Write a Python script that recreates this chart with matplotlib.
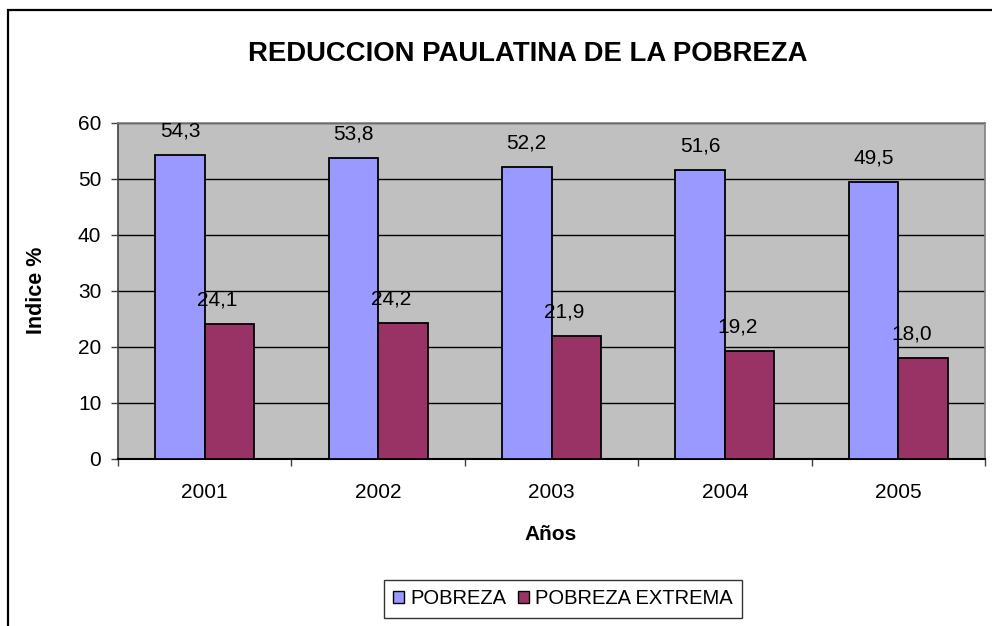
import matplotlib
matplotlib.use("Agg")
import matplotlib.pyplot as plt
from matplotlib.patches import Rectangle, Patch
import numpy as np

years = ["2001", "2002", "2003", "2004", "2005"]
pobreza = [54.3, 53.8, 52.2, 51.6, 49.5]
pobreza_extrema = [24.1, 24.2, 21.9, 19.2, 18.0]
series_names = ["POBREZA", "POBREZA EXTREMA"]
yticks = [0, 10, 20, 30, 40, 50, 60]

plt.rcParams['font.family'] = ['Liberation Sans', 'DejaVu Sans']

W, H = 992, 626
fig = plt.figure(figsize=(W / 100, H / 100), dpi=100)
fig.patch.set_facecolor('white')

# outer chart border (cut off at right/bottom as in reference)
fig.patches.append(Rectangle((8 / W, -0.05), 1.2, 1 - 10 / H + 0.05,
                             transform=fig.transFigure, fill=False,
                             edgecolor='black', linewidth=1.6))

ax = fig.add_axes([118 / W, 1 - 459 / H, (985 - 118) / W, (459 - 123) / H])
ax.set_facecolor('#C0C0C0')

x = np.arange(len(years))
w = 1 / 3.5
c1, c2 = '#9999FF', '#993366'
ax.bar(x - w / 2, pobreza, w, color=c1, edgecolor='black', linewidth=1.3, zorder=3)
ax.bar(x + w / 2, pobreza_extrema, w, color=c2, edgecolor='black', linewidth=1.3, zorder=3)

fs = 15
for xi, v in zip(x, pobreza):
    ax.annotate(f"{v:.1f}".replace('.', ','), (xi - w / 2, v), xytext=(0, 10.5),
                textcoords='offset points', ha='center', va='bottom', fontsize=fs, zorder=5)
for xi, v in zip(x, pobreza_extrema):
    ax.annotate(f"{v:.1f}".replace('.', ','), (xi + w / 2, v), xytext=(-8.5, 10.5),
                textcoords='offset points', ha='center', va='bottom', fontsize=fs, zorder=5)

ax.set_xlim(-0.5, len(years) - 0.5)
ax.set_ylim(0, 60)
ax.set_yticks(yticks)
ax.yaxis.grid(True, color='black', linewidth=1.0, zorder=1)
ax.set_axisbelow(True)

ax.set_xticks(x)
ax.set_xticklabels(years, fontsize=fs)
ax.set_xticks(np.arange(len(years) + 1) - 0.5, minor=True)
ax.tick_params(axis='x', which='major', length=0, pad=17)
ax.tick_params(axis='x', which='minor', length=5, width=1, color='#404040', direction='out')
ax.tick_params(axis='y', which='major', length=5, width=1, color='#404040', pad=7, labelsize=fs)

for s in ['top', 'right']:
    ax.spines[s].set_color('#808080')
    ax.spines[s].set_linewidth(1.2)
ax.spines['left'].set_color('#404040')
ax.spines['bottom'].set_color('black')
ax.spines['left'].set_linewidth(1.2)
ax.spines['bottom'].set_linewidth(1.5)

fig.text(528 / W, 1 - 54 / H, "REDUCCION PAULATINA DE LA POBREZA", ha='center', va='center',
         fontsize=19.8, fontweight='bold')
fig.text(36 / W, 1 - 290 / H, "Indice %", ha='center', va='center', rotation=90,
         fontsize=15.5, fontweight='bold')
fig.text(551 / W, 1 - 534 / H, "Años", ha='center', va='center', fontsize=15, fontweight='bold')

handles = [Patch(facecolor=c1, edgecolor='black', linewidth=1.0),
           Patch(facecolor=c2, edgecolor='black', linewidth=1.0)]
leg = fig.legend(handles, series_names, loc='center', bbox_to_anchor=(563 / W, 1 - 599 / H),
                 ncol=2, fontsize=14.5, frameon=True, fancybox=False, edgecolor='black',
                 handlelength=0.55, handleheight=0.55, handletextpad=0.3, columnspacing=0.6,
                 borderpad=0.45, borderaxespad=0)
leg.get_frame().set_linewidth(1.0)

fig.savefig("out.png", dpi=100)
